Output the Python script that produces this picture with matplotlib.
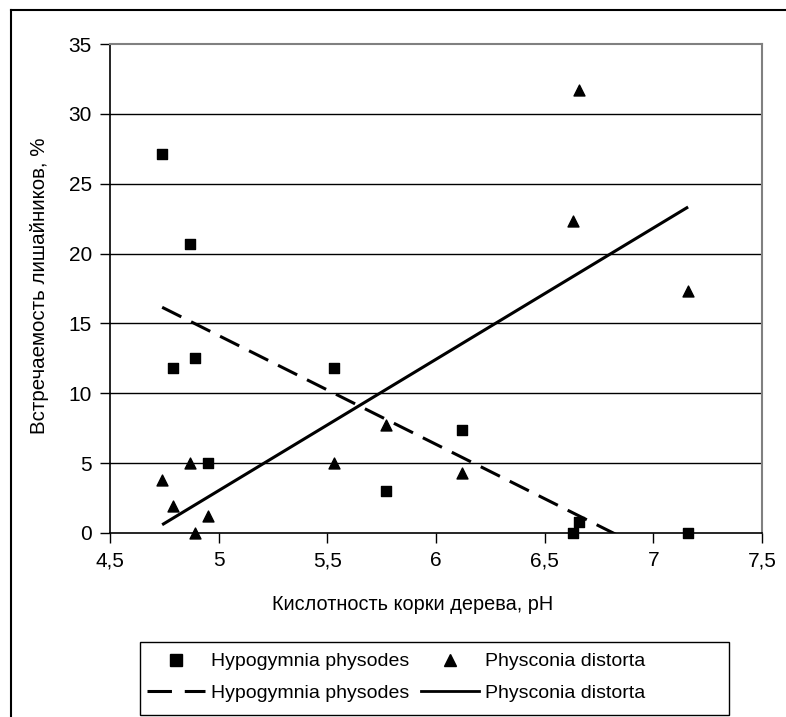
import numpy as np
import matplotlib
matplotlib.use("Agg")
import matplotlib.pyplot as plt
from matplotlib.lines import Line2D
from matplotlib.patches import Rectangle

plt.rcParams['font.family'] = ['Liberation Sans', 'DejaVu Sans']

# ---- data ----
hypo_x = [4.74, 4.87, 4.79, 4.89, 4.95, 5.53, 5.77, 6.12, 6.63, 6.66, 7.16]
hypo_y = [27.1, 20.7, 11.8, 12.5, 5.0, 11.8, 3.0, 7.4, 0.0, 0.8, 0.0]
phys_x = [4.74, 4.79, 4.87, 4.89, 4.95, 5.53, 5.77, 6.12, 6.63, 6.66, 7.16]
phys_y = [3.8, 1.9, 5.0, 0.0, 1.2, 5.0, 7.7, 4.3, 22.3, 31.7, 17.3]
x_ticks = [4.5, 5.0, 5.5, 6.0, 6.5, 7.0, 7.5]
x_tick_labels = ["4,5", "5", "5,5", "6", "6,5", "7", "7,5"]
y_ticks = [0, 5, 10, 15, 20, 25, 30, 35]
y_tick_labels = ["0", "5", "10", "15", "20", "25", "30", "35"]
series_names = ["Hypogymnia physodes", "Physconia distorta"]
xlabel = "Кислотность корки дерева, pH"
ylabel = "Встречаемость лишайников, %"

W, H = 786, 717
fig = plt.figure(figsize=(W / 100, H / 100), dpi=100)

def fx(px):
    return px / W

def fy(py):
    return 1 - py / H

ax = fig.add_axes([fx(110), fy(533), fx(762) - fx(110), fy(44) - fy(533)])
ax.set_xlim(4.5, 7.5)
ax.set_ylim(0, 35)

for y in y_ticks[1:-1]:
    ax.axhline(y, color='black', lw=1.0, zorder=1)

# trend lines (linear regression of the data)
for xs, ys, ls in [(hypo_x, hypo_y, (0, (7, 3.6))), (phys_x, phys_y, '-')]:
    k, b = np.polyfit(xs, ys, 1)
    xx = np.array([min(xs), max(xs)])
    ax.plot(xx, k * xx + b, color='black', lw=2.2, linestyle=ls, zorder=3,
            solid_capstyle='butt', dash_capstyle='butt')

ax.scatter(hypo_x, hypo_y, marker='s', s=62, color='black', zorder=4, clip_on=False)
ax.scatter(phys_x, phys_y, marker='^', s=62, color='black', zorder=4, clip_on=False)

ax.set_xticks(x_ticks)
ax.set_xticklabels(x_tick_labels)
ax.set_yticks(y_ticks)
ax.set_yticklabels(y_tick_labels)
ax.tick_params(axis='both', direction='out', length=7, width=1, labelsize=15,
               color='black', pad=6)
for s in ['top', 'right']:
    ax.spines[s].set_color('#808080')
    ax.spines[s].set_linewidth(1.5)
for s in ['left', 'bottom']:
    ax.spines[s].set_color('black')
    ax.spines[s].set_linewidth(1.2)

fig.text(fx(413), fy(605), xlabel, ha='center', va='center', fontsize=14.3)
fig.text(fx(40), fy(286), ylabel, ha='center', va='center', fontsize=14.8, rotation=90)

# outer chart frame (left and top visible)
fig.add_artist(Line2D([fx(11), fx(11)], [fy(10), 0], color='black', lw=1.5))
fig.add_artist(Line2D([fx(11), 1], [fy(10), fy(10)], color='black', lw=1.5))

# legend frame
fig.add_artist(Rectangle((fx(140), fy(715)), fx(729) - fx(140), fy(642) - fy(715),
                         transform=fig.transFigure, fill=False, edgecolor='black', lw=1.0))

handles = [
    Line2D([], [], color='black', marker='s', ls='none', markersize=8),
    Line2D([], [], color='black', lw=2.2, ls=(0, (8, 4.2))),
    Line2D([], [], color='black', marker='^', ls='none', markersize=8),
    Line2D([], [], color='black', lw=2.0, ls='-'),
]
labels = [series_names[0], series_names[0], series_names[1], series_names[1]]
leg = fig.legend(handles, labels, ncol=2, loc='upper left',
                 bbox_to_anchor=(fx(141), fy(647)),
                 fontsize=14, frameon=False,
                 borderpad=0.3, labelspacing=0.72,
                 handlelength=3.0, handletextpad=0.3, columnspacing=0.6,
                 borderaxespad=0)

fig.savefig("out.png", dpi=100)
